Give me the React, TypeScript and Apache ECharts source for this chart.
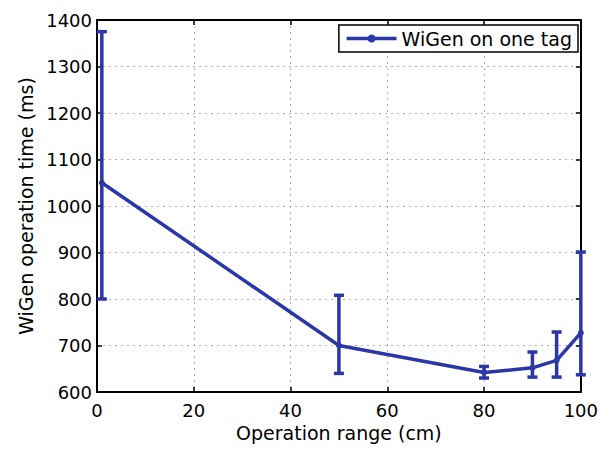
import React, { useEffect, useRef } from "react";
import * as echarts from "echarts";

const seriesName = "WiGen on one tag";
const rangeCm = [1, 50, 80, 90, 95, 100];
const meanMs = [1050, 700, 642, 652, 668, 727];
const lowMs = [800, 640, 630, 632, 632, 637];
const highMs = [1375, 808, 655, 686, 729, 901];

const xName = "Operation range (cm)";
const yName = "WiGen operation time (ms)";

export default function App() {
  const ref = useRef<HTMLDivElement>(null);
  useEffect(() => {
    const chart = echarts.init(ref.current!, null, { renderer: "svg" });
    const font = "DejaVu Sans";
    const blue = "#2b37a8";
    const axisLine = { show: true, onZero: false, lineStyle: { color: "#000", width: 2 } };
    const tick = { show: true, inside: true, length: 5, lineStyle: { color: "#000", width: 1.5 } };
    const split = { show: true, lineStyle: { color: "#b0b0b0", type: [2, 4], width: 1 } };
    chart.setOption({
      animation: false,
      backgroundColor: "#fff",
      textStyle: { fontFamily: font },
      grid: { left: 97, top: 20, right: 16, bottom: 57, containLabel: false },
      legend: {
        data: [seriesName],
        right: 23,
        top: 25,
        backgroundColor: "#fff",
        borderColor: "#000",
        borderWidth: 1.5,
        padding: [4, 6, 4, 6],
        itemWidth: 50,
        itemHeight: 10,
        lineStyle: { width: 3.5 },
        textStyle: { fontSize: 19, color: "#000", fontFamily: font },
      },
      xAxis: [
        {
          type: "value", min: 0, max: 100, interval: 20, position: "bottom",
          axisLine, axisTick: tick, splitLine: split,
          axisLabel: { color: "#000", fontSize: 18, margin: 9, fontFamily: font },
          name: xName, nameLocation: "middle", nameGap: 30,
          nameTextStyle: { fontSize: 19, color: "#000", fontFamily: font },
        },
        {
          type: "value", min: 0, max: 100, interval: 20, position: "top",
          axisLine, axisTick: tick, splitLine: { show: false }, axisLabel: { show: false },
        },
      ],
      yAxis: [
        {
          type: "value", min: 600, max: 1400, interval: 100, position: "left",
          axisLine, axisTick: tick, splitLine: split,
          axisLabel: {
            color: "#000", fontSize: 18, margin: 5, fontFamily: font,
            formatter: (v: number) => String(v),
          },
          name: yName, nameLocation: "middle", nameGap: 60,
          nameTextStyle: { fontSize: 19, color: "#000", fontFamily: font },
        },
        {
          type: "value", min: 600, max: 1400, interval: 100, position: "right",
          axisLine, axisTick: tick, splitLine: { show: false }, axisLabel: { show: false },
        },
      ],
      series: [
        {
          type: "line",
          name: seriesName,
          data: rangeCm.map((x, i) => [x, meanMs[i]]),
          color: blue,
          lineStyle: { width: 3.5, color: blue },
          itemStyle: { color: blue },
          symbol: "circle",
          symbolSize: 6,
          clip: false,
          z: 3,
        },
        {
          type: "custom",
          data: rangeCm.map((x, i) => [x, lowMs[i], highMs[i]]),
          encode: { x: 0, y: [1, 2] },
          clip: false,
          z: 3,
          renderItem: (params: any, api: any) => {
            const x = api.value(0);
            const p1 = api.coord([x, api.value(1)]);
            const p2 = api.coord([x, api.value(2)]);
            const w = 5;
            const style = { stroke: blue, lineWidth: 3.5 };
            return {
              type: "group",
              children: [
                { type: "line", shape: { x1: p1[0], y1: p1[1], x2: p2[0], y2: p2[1] }, style },
                { type: "line", shape: { x1: p1[0] - w, y1: p1[1], x2: p1[0] + w, y2: p1[1] }, style },
                { type: "line", shape: { x1: p2[0] - w, y1: p2[1], x2: p2[0] + w, y2: p2[1] }, style },
              ],
            };
          },
        },
      ],
    });
    return () => chart.dispose();
  }, []);
  return (
    <div
      ref={ref}
      style={{ position: "absolute", left: 0, top: 0, width: 601, height: 449, background: "#fff" }}
    />
  );
}
